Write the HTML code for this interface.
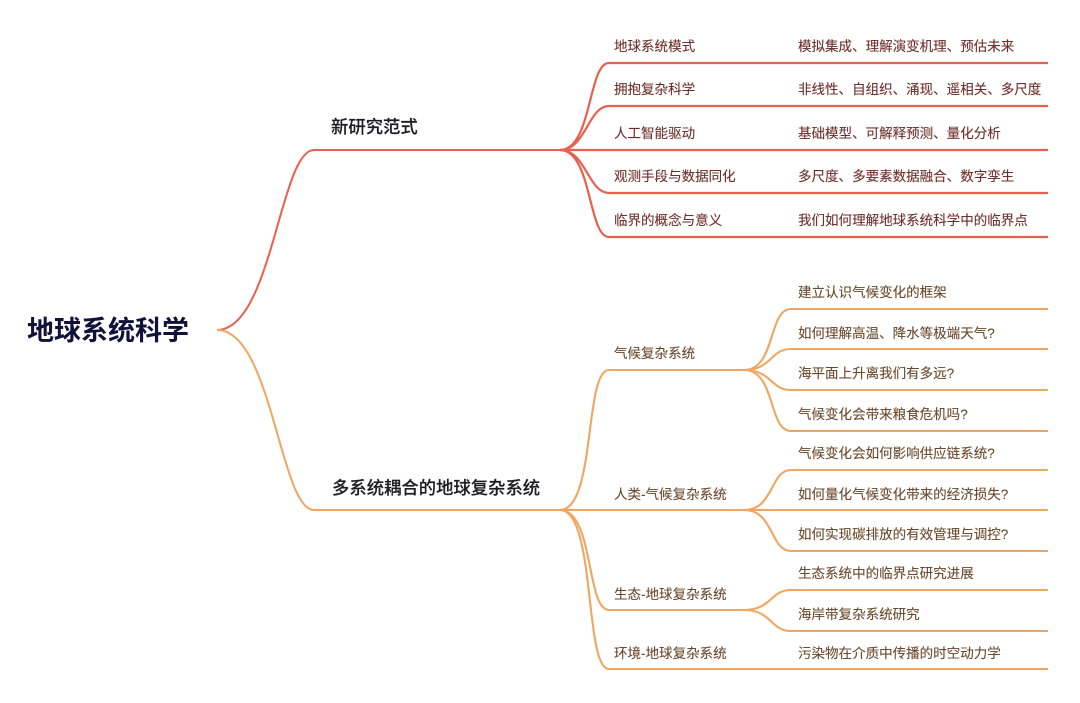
<!DOCTYPE html>
<html lang="zh">
<head>
<meta charset="utf-8">
<style>
html,body{margin:0;padding:0;background:#fff;width:1080px;height:703px;overflow:hidden}
svg{display:block}
text{font-family:"Liberation Sans","Noto Sans CJK SC",sans-serif}
.r{fill:#6e2f2a;font-size:13.53px;stroke:#6e2f2a;stroke-width:.12}
.o{fill:#6b4a2c;font-size:13.53px;stroke:#6b4a2c;stroke-width:.12}
.l1{fill:#1c1c22;font-size:17.35px;font-weight:500;stroke:#1c1c22;stroke-width:.15}
</style>
</head>
<body>
<svg width="1080" height="703" viewBox="0 0 1080 703" xmlns="http://www.w3.org/2000/svg">
<g fill="none" stroke-linecap="butt">
<g stroke="#e8604f" stroke-width="2.2">
<path d="M217 330C272 330 280 150 314 150H562" stroke-width="2"/>
<path d="M560 150C592 150 588 63 609 63H1048"/>
<path d="M560 150C586 150 588 106 609 106H1048"/>
<path d="M560 150H1048"/>
<path d="M560 150C586 150 588 193 609 193H1048"/>
<path d="M560 150C592 150 588 237 609 237H1048"/>
</g>
<g stroke="#f0a660" stroke-width="2.1">
<path d="M217 330C272 330 280 510 314 510H562" stroke-width="2"/>
<path d="M560 510C596 510 584 370 609 370H746"/>
<path d="M560 510H746"/>
<path d="M560 510C594 510 586 610 609 610H746"/>
<path d="M560 510C596 510 584 669 609 669H1048"/>
<path d="M744 370C776 370 768 309 791 309H1048"/>
<path d="M744 370C772 370 770 349 791 349H1048"/>
<path d="M744 370C772 370 770 390 791 390H1048"/>
<path d="M744 370C776 370 768 431 791 431H1048"/>
<path d="M744 510C774 510 770 470 791 470H1048"/>
<path d="M744 510H1048"/>
<path d="M744 510C774 510 770 551 791 551H1048"/>
<path d="M744 610C772 610 770 590 791 590H1048"/>
<path d="M744 610C772 610 770 631 791 631H1048"/>
</g>
</g>
<text x="27" y="340" fill="#10123a" font-size="27" font-weight="700">地球系统科学</text>
<text x="331" y="133" class="l1">新研究范式</text>
<text x="332" y="494" class="l1">多系统耦合的地球复杂系统</text>
<text x="614" y="51" class="r">地球系统模式</text>
<text x="614" y="94" class="r">拥抱复杂科学</text>
<text x="614" y="138" class="r">人工智能驱动</text>
<text x="614" y="181" class="r">观测手段与数据同化</text>
<text x="614" y="225" class="r">临界的概念与意义</text>
<text x="798" y="51" class="r">模拟集成、理解演变机理、预估未来</text>
<text x="798" y="94" class="r">非线性、自组织、涌现、遥相关、多尺度</text>
<text x="798" y="138" class="r">基础模型、可解释预测、量化分析</text>
<text x="798" y="181" class="r">多尺度、多要素数据融合、数字孪生</text>
<text x="798" y="225" class="r">我们如何理解地球系统科学中的临界点</text>
<text x="614" y="358" class="o">气候复杂系统</text>
<text x="614" y="499" class="o">人类-气候复杂系统</text>
<text x="614" y="599" class="o">生态-地球复杂系统</text>
<text x="614" y="658" class="o">环境-地球复杂系统</text>
<text x="798" y="297" class="o">建立认识气候变化的框架</text>
<text x="798" y="338" class="o">如何理解高温、降水等极端天气?</text>
<text x="798" y="378" class="o">海平面上升离我们有多远?</text>
<text x="798" y="419" class="o">气候变化会带来粮食危机吗?</text>
<text x="798" y="458" class="o">气候变化会如何影响供应链系统?</text>
<text x="798" y="499" class="o">如何量化气候变化带来的经济损失?</text>
<text x="798" y="539" class="o">如何实现碳排放的有效管理与调控?</text>
<text x="798" y="578" class="o">生态系统中的临界点研究进展</text>
<text x="798" y="619" class="o">海岸带复杂系统研究</text>
<text x="798" y="658" class="o">污染物在介质中传播的时空动力学</text>
</svg>
</body>
</html>
